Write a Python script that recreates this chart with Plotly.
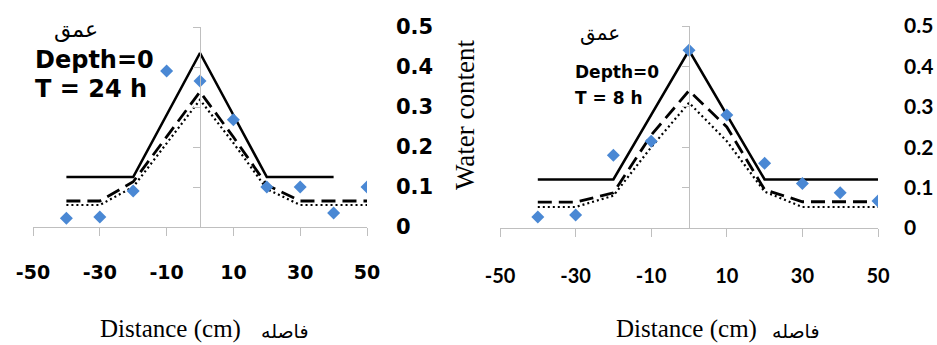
import plotly.graph_objects as go

W, H = 937, 345

# ---------------- data ----------------
x_pts = [-40, -30, -20, -10, 0, 10, 20, 30, 40, 50]
x_ticks = [-50, -30, -10, 10, 30, 50]
x_tick_text = ["-50", "-30", "-10", "10", "30", "50"]
y_ticks = [0, 0.1, 0.2, 0.3, 0.4, 0.5]
y_tick_text = ["0", "0.1", "0.2", "0.3", "0.4", "0.5"]

# Left panel: T = 24 h
left_solid_x = [-40, -30, -20, -10, 0, 10, 20, 30, 40]
left_solid = [0.125, 0.125, 0.125, 0.28, 0.435, 0.28, 0.125, 0.125, 0.125]
left_dash = [0.065, 0.065, 0.113, 0.225, 0.338, 0.225, 0.105, 0.065, 0.065, 0.065]
left_dot = [0.055, 0.055, 0.100, 0.210, 0.318, 0.210, 0.095, 0.055, 0.055, 0.055]
left_obs = [0.022, 0.025, 0.090, 0.390, 0.365, 0.268, 0.100, 0.100, 0.035, 0.100]

# Right panel: T = 8 h
right_solid = [0.12, 0.12, 0.12, 0.28, 0.44, 0.28, 0.12, 0.12, 0.12, 0.12]
right_dash = [0.064, 0.064, 0.087, 0.230, 0.340, 0.250, 0.095, 0.065, 0.065, 0.065]
right_dot = [0.052, 0.052, 0.080, 0.200, 0.310, 0.215, 0.090, 0.052, 0.052, 0.052]
right_obs = [0.027, 0.032, 0.180, 0.215, 0.440, 0.280, 0.160, 0.110, 0.087, 0.067]

# ---------------- figure ----------------
BLUE = "#4a88d4"
GRAY = "#bfbfbf"
BOLD = "Lato, 'Open Sans', Arial, sans-serif"
WIDE = "'DejaVu Sans', Verdana, sans-serif"
SERIF = "'Liberation Serif', 'Times New Roman', serif"
ARABIC = "'DejaVu Sans', sans-serif"

fig = go.Figure()

def add_panel(xa, ya, yl, xs_solid, solid, dash, dot, obs):
    fig.add_trace(go.Scatter(x=xs_solid, y=solid, mode="lines", xaxis=xa, yaxis=ya,
                             line=dict(color="black", width=2.6), showlegend=False))
    fig.add_trace(go.Scatter(x=x_pts, y=dash, mode="lines", xaxis=xa, yaxis=ya,
                             line=dict(color="black", width=2.8, dash="14px,7px"), showlegend=False))
    fig.add_trace(go.Scatter(x=x_pts, y=dot, mode="lines", xaxis=xa, yaxis=ya,
                             line=dict(color="black", width=2.2, dash="2px,3px"), showlegend=False))
    fig.add_trace(go.Scatter(x=x_pts, y=obs, mode="markers", xaxis=xa, yaxis=yl,
                             marker=dict(symbol="diamond", size=10, color=BLUE), showlegend=False))

add_panel("x", "y", "y3", left_solid_x, left_solid, left_dash, left_dot, left_obs)
add_panel("x2", "y2", "y4", x_pts, right_solid, right_dash, right_dot, right_obs)

def px_x(p):
    return p / W

def px_y(p):
    return (H - p) / H

xcommon = dict(range=[-50, 50], tickmode="array", tickvals=x_ticks, ticktext=x_tick_text,
               showline=True, linecolor=GRAY, linewidth=1.2, ticks="outside", ticklen=8,
               tickcolor=GRAY, tickwidth=1.2, showgrid=False, zeroline=False,
               automargin=False)
ycommon = dict(range=[0, 0.5], tickmode="array", tickvals=y_ticks, showline=True,
               linecolor=GRAY, linewidth=1.2, ticks="outside", ticklen=7, tickcolor=GRAY,
               tickwidth=1.2, showticklabels=False, showgrid=False, zeroline=False,
               automargin=False)
ylab = dict(range=[0, 0.5], tickmode="array", tickvals=y_ticks, ticktext=y_tick_text,
            showline=False, ticks="", showgrid=False, zeroline=False, side="right",
            anchor="free", automargin=False)

fig.update_layout(
    width=W, height=H, margin=dict(l=0, r=0, t=0, b=0, autoexpand=False),
    paper_bgcolor="white", plot_bgcolor="white",
    xaxis=dict(domain=[px_x(33), px_x(367)], anchor="y", ticklabelstandoff=20,
               tickfont=dict(family=WIDE, size=19, color="black", weight="bold"), **xcommon),
    yaxis=dict(domain=[px_y(227), px_y(27)], anchor="free", position=px_x(200), **ycommon),
    xaxis2=dict(domain=[px_x(500), px_x(878)], anchor="y2", ticklabelstandoff=22,
                tickfont=dict(family="'Liberation Sans Narrow', " + BOLD, size=20, color="black", weight="bold"),
                **xcommon),
    yaxis2=dict(domain=[px_y(228), px_y(26)], anchor="free", position=px_x(689), **ycommon),
    yaxis3=dict(overlaying="y", position=px_x(395),
                tickfont=dict(family=WIDE, size=21, color="black", weight="bold"), **ylab),
    yaxis4=dict(overlaying="y2", position=px_x(903),
                tickfont=dict(family=BOLD, size=21, color="black", weight="bold"), **ylab),
)

def note(text, x, y, size, family, xanchor="center", bold=False, angle=0):
    fig.add_annotation(text=text, x=px_x(x), y=px_y(y), xref="paper", yref="paper",
                       xanchor=xanchor, yanchor="middle", showarrow=False, textangle=angle,
                       font=dict(family=family, size=size, color="black",
                                 weight="bold" if bold else "normal"))

# Left panel labels
note("عمق", 76, 30, 22, ARABIC)
note("Depth=0", 33, 60, 24, WIDE, xanchor="left", bold=True)
note("T = 24 h", 33, 89, 24, WIDE, xanchor="left", bold=True)
# Right panel labels
note("عمق", 600, 33, 20, ARABIC)
note("Depth=0", 573, 72, 17, WIDE, xanchor="left", bold=True)
note("T = 8 h", 573, 98, 17, WIDE, xanchor="left", bold=True)

note("Water content", 465, 115, 27, SERIF, angle=-90)
note("Distance (cm)", 170, 329, 25, SERIF)
note("فاصله", 284, 331, 19, ARABIC)
note("Distance (cm)", 686, 329, 25, SERIF)
note("فاصله", 795, 331, 19, ARABIC)

fig.write_html("out.html")
